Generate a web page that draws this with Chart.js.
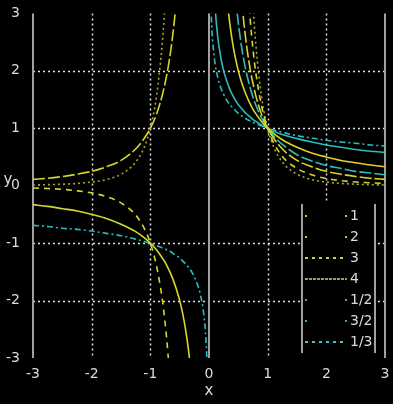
<!DOCTYPE html>
<html>
<head>
<meta charset="utf-8">
<script src="https://cdn.jsdelivr.net/npm/chart.js@4/dist/chart.umd.min.js"></script>
<style>
  html, body { margin: 0; padding: 0; background: #000; }
  #wrap { width: 393px; height: 404px; }
</style>
</head>
<body>
<div id="wrap"><canvas id="powerChart"></canvas></div>
<script>
// y = x^(-n), sample points
const xNeg = [-3, -2.75, -2.5, -2.25, -2, -1.75, -1.5, -1.25, -1.1, -1, -0.9, -0.8, -0.75, -0.7, -0.65, -0.6, -0.55, -0.5, -0.45, -0.4, -0.35, -0.3, -0.25, -0.2, -0.15, -0.1, -0.08, -0.06, -0.04, -0.02];
const xPos = [0.02, 0.04, 0.06, 0.08, 0.1, 0.15, 0.2, 0.25, 0.3, 0.35, 0.4, 0.45, 0.5, 0.55, 0.6, 0.65, 0.7, 0.75, 0.8, 0.9, 1, 1.1, 1.25, 1.5, 1.75, 2, 2.25, 2.5, 2.75, 3];

const labels = ['1', '2', '3', '4', '1/2', '3/2', '1/3'];

const n1Neg = [-0.33, -0.36, -0.4, -0.44, -0.5, -0.57, -0.67, -0.8, -0.91, -1, -1.11, -1.25, -1.33, -1.43, -1.54, -1.67, -1.82, -2, -2.22, -2.5, -2.86, -3.33, -4, null, null, null, null, null, null, null];
const n1Pos = [null, null, null, null, null, null, null, 4, 3.33, 2.86, 2.5, 2.22, 2, 1.82, 1.67, 1.54, 1.43, 1.33, 1.25, 1.11, 1, 0.91, 0.8, 0.67, 0.57, 0.5, 0.44, 0.4, 0.36, 0.33];

const n2Neg = [0.11, 0.13, 0.16, 0.2, 0.25, 0.33, 0.44, 0.64, 0.83, 1, 1.23, 1.56, 1.78, 2.04, 2.37, 2.78, 3.31, 4, null, null, null, null, null, null, null, null, null, null, null, null];
const n2Pos = [null, null, null, null, null, null, null, null, null, null, null, null, 4, 3.31, 2.78, 2.37, 2.04, 1.78, 1.56, 1.23, 1, 0.83, 0.64, 0.44, 0.33, 0.25, 0.2, 0.16, 0.13, 0.11];

const n3Neg = [-0.04, -0.05, -0.064, -0.088, -0.125, -0.19, -0.3, -0.51, -0.75, -1, -1.37, -1.95, -2.37, -2.92, -3.64, -4.63, null, null, null, null, null, null, null, null, null, null, null, null, null, null];
const n3Pos = [null, null, null, null, null, null, null, null, null, null, null, null, null, null, 4.63, 3.64, 2.92, 2.37, 1.95, 1.37, 1, 0.75, 0.51, 0.3, 0.19, 0.125, 0.088, 0.064, 0.05, 0.04];

const n4Neg = [0.012, 0.018, 0.026, 0.039, 0.063, 0.107, 0.2, 0.41, 0.68, 1, 1.52, 2.44, 3.16, 4.16, null, null, null, null, null, null, null, null, null, null, null, null, null, null, null, null];
const n4Pos = [null, null, null, null, null, null, null, null, null, null, null, null, null, null, null, null, 4.16, 3.16, 2.44, 1.52, 1, 0.68, 0.41, 0.2, 0.107, 0.063, 0.039, 0.026, 0.018, 0.012];

const nHalfPos = [null, null, 4.08, 3.54, 3.16, 2.58, 2.24, 2, 1.83, 1.69, 1.58, 1.49, 1.41, 1.35, 1.29, 1.24, 1.2, 1.15, 1.12, 1.05, 1, 0.95, 0.89, 0.82, 0.76, 0.71, 0.67, 0.63, 0.6, 0.58];

const n32Pos = [null, null, null, null, null, null, null, null, null, 4.83, 3.95, 3.31, 2.83, 2.45, 2.15, 1.91, 1.71, 1.54, 1.4, 1.17, 1, 0.87, 0.72, 0.54, 0.43, 0.35, 0.3, 0.25, 0.22, 0.19];

const nThirdNeg = [-0.69, -0.71, -0.74, -0.76, -0.79, -0.83, -0.87, -0.93, -0.97, -1, -1.04, -1.08, -1.1, -1.13, -1.15, -1.19, -1.22, -1.26, -1.31, -1.36, -1.42, -1.49, -1.59, -1.71, -1.88, -2.15, -2.32, -2.55, -2.92, -3.68];
const nThirdPos = [3.68, 2.92, 2.55, 2.32, 2.15, 1.88, 1.71, 1.59, 1.49, 1.42, 1.36, 1.31, 1.26, 1.22, 1.19, 1.15, 1.13, 1.1, 1.08, 1.04, 1, 0.97, 0.93, 0.87, 0.83, 0.79, 0.76, 0.74, 0.71, 0.69];

const xTicks = [-3, -2, -1, 0, 1, 2, 3];
const yTicks = [-3, -2, -1, 0, 1, 2, 3];

// join both branches with a gap at x = 0
function branch(neg, pos) {
    const pts = [];
    if (neg) xNeg.forEach((x, i) => pts.push({ x: x, y: neg[i] }));
    pts.push({ x: 0, y: null });
    xPos.forEach((x, i) => pts.push({ x: x, y: pos[i] }));
    return pts;
}

const yellow = '#d6d62c';
const olive = '#a8a830';
const cyan = '#2cbcbc';

const series = [
    { data: branch(n1Neg, n1Pos), color: yellow, dash: [], legendColor: '#c8c840', legendDash: [2, 38] },
    { data: branch(n2Neg, n2Pos), color: yellow, dash: [12, 3], legendColor: '#c8c840', legendDash: [2, 38] },
    { data: branch(n3Neg, n3Pos), color: yellow, dash: [6, 5], legendColor: '#d0d040', legendDash: [3, 4] },
    { data: branch(n4Neg, n4Pos), color: olive, dash: [2, 3], legendColor: '#a0a040', legendDash: [3, 1] },
    { data: branch(null, nHalfPos), color: cyan, dash: [], legendColor: '#40a8a8', legendDash: [2, 38] },
    { data: branch(null, n32Pos), color: cyan, dash: [12, 3], legendColor: '#40a8a8', legendDash: [2, 38] },
    { data: branch(nThirdNeg, nThirdPos), color: cyan, dash: [6, 3, 2, 3], legendColor: '#40c4c4', legendDash: [3, 4] }
];

const textColor = '#dcdcdc';

// dotted grid, solid frame lines, axis names
const gridPlugin = {
    id: 'gridPlugin',
    beforeDatasetsDraw(chart) {
        const { ctx, chartArea: a, scales: { x, y } } = chart;
        ctx.save();
        ctx.strokeStyle = '#e0e0e0';
        ctx.lineWidth = 1.5;
        ctx.setLineDash([2, 3]);
        [-2, -1, 1, 2].forEach(v => {
            const px = Math.round(x.getPixelForValue(v)) + 0.5;
            ctx.beginPath(); ctx.moveTo(px, a.top); ctx.lineTo(px, a.bottom); ctx.stroke();
            const py = Math.round(y.getPixelForValue(v)) + 0.5;
            ctx.beginPath(); ctx.moveTo(a.left, py); ctx.lineTo(a.right, py); ctx.stroke();
        });
        ctx.setLineDash([]);
        ctx.strokeStyle = '#a0a0a0';
        ctx.lineWidth = 2;
        [-3, 0, 3].forEach(v => {
            const px = Math.round(x.getPixelForValue(v));
            ctx.beginPath(); ctx.moveTo(px, a.top); ctx.lineTo(px, a.bottom); ctx.stroke();
        });
        ctx.restore();
    },
    afterDatasetsDraw(chart) {
        const { ctx, chartArea: a } = chart;
        ctx.save();
        // legend box
        const lx = 300, ly = 201, lw = 77, lh = 155;
        ctx.fillStyle = '#000';
        ctx.fillRect(lx, ly, lw, lh);
        ctx.strokeStyle = '#a0a0a0';
        ctx.lineWidth = 2;
        ctx.beginPath(); ctx.moveTo(lx + 2, ly + 3); ctx.lineTo(lx + 2, ly + lh - 3); ctx.stroke();
        ctx.beginPath(); ctx.moveTo(lx + lw - 2, ly + 3); ctx.lineTo(lx + lw - 2, ly + lh - 3); ctx.stroke();
        ctx.font = '14px "DejaVu Sans"';
        ctx.textBaseline = 'middle';
        ctx.textAlign = 'left';
        series.forEach((s, i) => {
            const yy = ly + 15 + i * 21;
            ctx.strokeStyle = s.legendColor;
            ctx.lineWidth = 2;
            ctx.setLineDash(s.legendDash);
            ctx.beginPath(); ctx.moveTo(lx + 5, yy); ctx.lineTo(lx + 47, yy); ctx.stroke();
            ctx.setLineDash([]);
            ctx.fillStyle = textColor;
            ctx.fillText(labels[i], lx + 50, yy);
        });
        // axis names
        ctx.font = '15px "DejaVu Sans"';
        ctx.textAlign = 'center';
        ctx.fillText('x', (a.left + a.right) / 2, 391);
        ctx.fillText('y', 8, 180);
        ctx.restore();
    }
};

const ctx = document.getElementById('powerChart').getContext('2d');
const powerChart = new Chart(ctx, {
    type: 'line',
    data: {
        datasets: series.map((s, i) => ({
            label: labels[i],
            data: s.data,
            borderColor: s.color,
            borderDash: s.dash,
            borderWidth: 1.6,
            pointRadius: 0,
            fill: false,
            spanGaps: false,
            cubicInterpolationMode: 'monotone'
        }))
    },
    options: {
        responsive: true,
        maintainAspectRatio: false,
        animation: false,
        layout: { padding: { top: 13, right: 8, left: 0, bottom: 0 } },
        plugins: { legend: { display: false }, tooltip: { enabled: false } },
        scales: {
            x: {
                type: 'linear',
                min: -3,
                max: 3,
                afterBuildTicks: s => { s.ticks = xTicks.map(v => ({ value: v })); },
                afterFit: s => { s.height = 46; },
                ticks: { color: textColor, font: { family: 'DejaVu Sans', size: 14 }, padding: 0, maxRotation: 0 },
                grid: { display: false },
                border: { display: false }
            },
            y: {
                type: 'linear',
                min: -3,
                max: 3,
                afterBuildTicks: s => { s.ticks = yTicks.map(v => ({ value: v })); },
                afterFit: s => { s.width = 33; },
                ticks: { color: textColor, font: { family: 'DejaVu Sans', size: 14 }, padding: 5 },
                grid: { display: false },
                border: { display: false }
            }
        }
    },
    plugins: [gridPlugin]
});
</script>
</body>
</html>
